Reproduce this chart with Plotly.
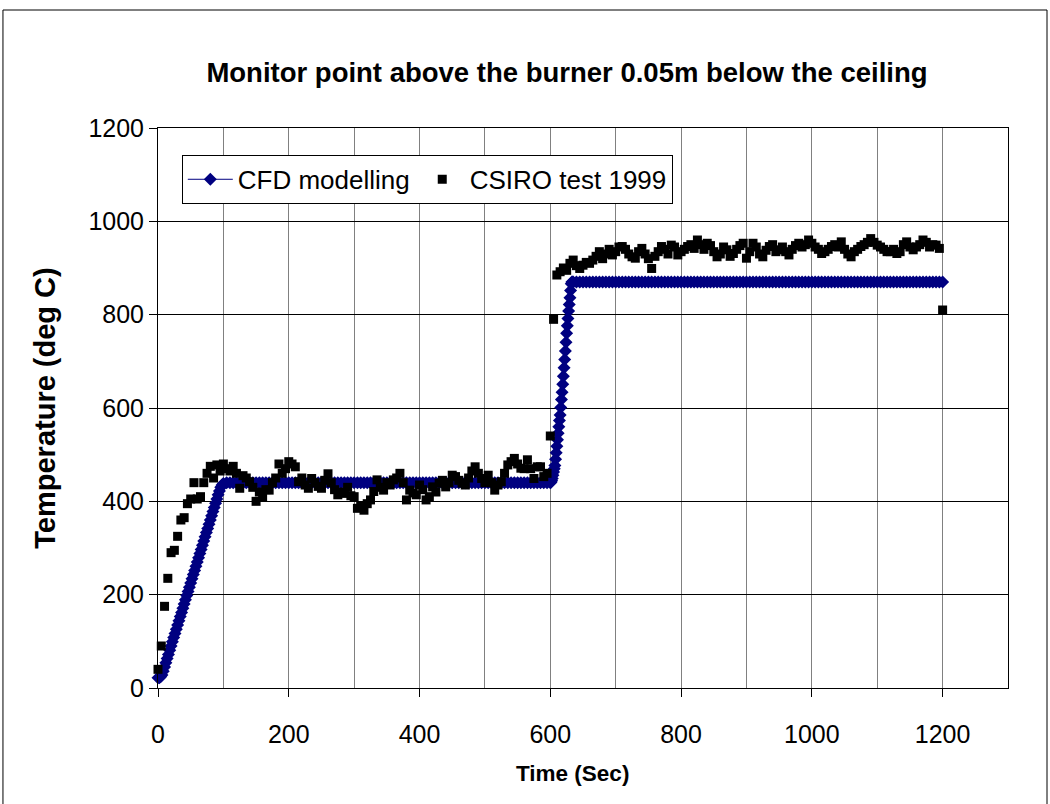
import plotly.graph_objects as go

# CFD modelling (sec, deg C)
cfd_time = [
    0, 2, 4, 6, 8, 10, 12, 14, 16, 18, 20, 22, 24, 26, 28, 30, 32, 34, 36, 38,
    40, 42, 44, 46, 48, 50, 52, 54, 56, 58, 60, 62, 64, 66, 68, 70, 72, 74, 76, 78,
    80, 82, 84, 86, 88, 90, 92, 94, 96, 98, 100,
    105, 110, 115, 120, 125, 130, 135, 140, 145, 150, 155, 160, 165, 170, 175, 180, 185, 190, 195, 200,
    205, 210, 215, 220, 225, 230, 235, 240, 245, 250, 255, 260, 265, 270, 275, 280, 285, 290, 295, 300,
    305, 310, 315, 320, 325, 330, 335, 340, 345, 350, 355, 360, 365, 370, 375, 380, 385, 390, 395, 400,
    405, 410, 415, 420, 425, 430, 435, 440, 445, 450, 455, 460, 465, 470, 475, 480, 485, 490, 495, 500,
    505, 510, 515, 520, 525, 530, 535, 540, 545, 550, 555, 560, 565, 570, 575, 580, 585, 590, 595,
    600, 601, 602, 603, 604, 605, 606, 607, 608, 609, 610, 611, 612, 613, 614, 615, 616, 617, 618, 619,
    620, 621, 622, 623, 624, 625, 626, 627, 628, 629, 630, 631, 632, 633, 634, 635,
    640, 645, 650, 655, 660, 665, 670, 675, 680, 685, 690, 695, 700,
    705, 710, 715, 720, 725, 730, 735, 740, 745, 750, 755, 760, 765, 770, 775, 780, 785, 790, 795, 800,
    805, 810, 815, 820, 825, 830, 835, 840, 845, 850, 855, 860, 865, 870, 875, 880, 885, 890, 895, 900,
    905, 910, 915, 920, 925, 930, 935, 940, 945, 950, 955, 960, 965, 970, 975, 980, 985, 990, 995, 1000,
    1005, 1010, 1015, 1020, 1025, 1030, 1035, 1040, 1045, 1050, 1055, 1060, 1065, 1070, 1075, 1080, 1085, 1090, 1095, 1100,
    1105, 1110, 1115, 1120, 1125, 1130, 1135, 1140, 1145, 1150, 1155, 1160, 1165, 1170, 1175, 1180, 1185, 1190, 1195, 1200,
]
cfd_temp = [
    22, 22, 24, 28, 36, 45, 54, 63, 72, 81, 90, 99, 108, 117, 126, 135, 144, 153, 162, 171,
    180, 189, 198, 207, 216, 225, 234, 243, 252, 261, 270, 279, 288, 297, 306, 315, 324, 333, 342, 351,
    360, 369, 378, 387, 396, 405, 414, 422, 430, 435, 438,
    440, 440, 440, 440, 440, 440, 440, 440, 440, 440, 440, 440, 440, 440, 440, 440, 440, 440, 440, 440,
    440, 440, 440, 440, 440, 440, 440, 440, 440, 440, 440, 440, 440, 440, 440, 440, 440, 440, 440, 440,
    440, 440, 440, 440, 440, 440, 440, 440, 440, 440, 440, 440, 440, 440, 440, 440, 440, 440, 440, 440,
    440, 440, 440, 440, 440, 440, 440, 440, 440, 440, 440, 440, 440, 440, 440, 440, 440, 440, 440, 440,
    440, 440, 440, 440, 440, 440, 440, 440, 440, 440, 440, 440, 440, 440, 440, 440, 440, 440, 440,
    440, 441, 444, 449, 456, 463, 470, 477, 490, 504, 518, 532, 546, 560, 573, 585, 601, 618, 634, 651,
    668, 686, 704, 722, 741, 760, 776, 792, 808, 822, 836, 852, 866, 870, 870, 870,
    870, 870, 870, 870, 870, 870, 870, 870, 870, 870, 870, 870, 870,
    870, 870, 870, 870, 870, 870, 870, 870, 870, 870, 870, 870, 870, 870, 870, 870, 870, 870, 870, 870,
    870, 870, 870, 870, 870, 870, 870, 870, 870, 870, 870, 870, 870, 870, 870, 870, 870, 870, 870, 870,
    870, 870, 870, 870, 870, 870, 870, 870, 870, 870, 870, 870, 870, 870, 870, 870, 870, 870, 870, 870,
    870, 870, 870, 870, 870, 870, 870, 870, 870, 870, 870, 870, 870, 870, 870, 870, 870, 870, 870, 870,
    870, 870, 870, 870, 870, 870, 870, 870, 870, 870, 870, 870, 870, 870, 870, 870, 870, 870, 870, 870,
]

# CSIRO test 1999 (sec, deg C)
csiro_time = [
    0, 5, 10, 15, 20, 25, 30, 35, 40, 45, 50, 55, 60, 65, 70, 75, 80, 85, 90, 95, 100,
    105, 110, 115, 120, 125, 130, 135, 140, 145, 150, 155, 160, 165, 170, 175, 180, 185, 190, 195, 200,
    205, 210, 215, 220, 225, 230, 235, 240, 245, 250, 255, 260, 265, 270, 275, 280, 285, 290, 295, 300,
    305, 310, 315, 320, 325, 330, 335, 340, 345, 350, 355, 360, 365, 370, 375, 380, 385, 390, 395, 400,
    405, 410, 415, 420, 425, 430, 435, 440, 445, 450, 455, 460, 465, 470, 475, 480, 485, 490, 495, 500,
    505, 510, 515, 520, 525, 530, 535, 540, 545, 550, 555, 560, 565, 570, 575, 580, 585, 590, 595, 600,
    605, 610, 615, 620, 625, 630, 635, 640, 645, 650, 655, 660, 665, 670, 675, 680, 685, 690, 695, 700,
    705, 710, 715, 720, 725, 730, 735, 740, 745, 750, 755, 760, 765, 770, 775, 780, 785, 790, 795, 800,
    805, 810, 815, 820, 825, 830, 835, 840, 845, 850, 855, 860, 865, 870, 875, 880, 885, 890, 895, 900,
    905, 910, 915, 920, 925, 930, 935, 940, 945, 950, 955, 960, 965, 970, 975, 980, 985, 990, 995, 1000,
    1005, 1010, 1015, 1020, 1025, 1030, 1035, 1040, 1045, 1050, 1055, 1060, 1065, 1070, 1075, 1080, 1085, 1090, 1095, 1100,
    1105, 1110, 1115, 1120, 1125, 1130, 1135, 1140, 1145, 1150, 1155, 1160, 1165, 1170, 1175, 1180, 1185, 1190, 1195, 1200,
]
csiro_temp = [
    40, 90, 175, 235, 290, 295, 325, 360, 365, 395, 405, 440, 405, 410, 440, 460, 475, 450, 478, 465, 480,
    470, 465, 475, 460, 428, 455, 450, 442, 430, 400, 420, 410, 425, 424, 440, 450, 480, 460, 470, 485,
    480, 474, 442, 450, 435, 428, 449, 440, 432, 428, 445, 459, 440, 425, 414, 420, 417, 430, 412, 410,
    385, 390, 381, 395, 403, 421, 446, 430, 424, 440, 435, 446, 450, 460, 440, 403, 424, 418, 414, 435,
    425, 403, 410, 431, 420, 439, 445, 431, 440, 456, 453, 445, 439, 435, 450, 465, 474, 460, 449, 440,
    456, 440, 424, 435, 442, 460, 478, 485, 492, 480, 471, 470, 489, 470, 449, 474, 474, 453, 460, 540,
    790, 885, 892, 900, 895, 910, 917, 905, 899, 906, 912, 910, 917, 925, 935, 920, 930, 940, 928, 935,
    945, 946, 940, 930, 924, 921, 935, 942, 930, 920, 899, 925, 935, 946, 940, 930, 949, 945, 928, 935,
    940, 946, 950, 942, 960, 950, 940, 953, 948, 935, 924, 930, 945, 939, 925, 931, 940, 948, 953, 921,
    935, 953, 945, 930, 924, 938, 946, 950, 935, 939, 945, 935, 928, 940, 948, 953, 945, 950, 960, 953,
    945, 940, 931, 935, 940, 946, 950, 945, 956, 940, 930, 924, 935, 940, 946, 950, 955, 963, 955, 949,
    945, 940, 935, 935, 940, 931, 935, 950, 956, 945, 939, 945, 950, 960, 955, 945, 950, 949, 942, 810,
]

assert len(cfd_time) == len(cfd_temp)
assert len(csiro_time) == len(csiro_temp)

FONT = "Liberation Sans, Arial, sans-serif"

fig = go.Figure()

fig.add_trace(go.Scatter(
    x=cfd_time, y=cfd_temp,
    name="CFD modelling",
    mode="lines+markers",
    line=dict(color="#000080", width=1),
    marker=dict(symbol="diamond", size=10, color="#000080"),
    cliponaxis=False,
))

fig.add_trace(go.Scatter(
    x=csiro_time, y=csiro_temp,
    name="CSIRO test 1999",
    mode="markers",
    marker=dict(symbol="square", size=9, color="#000000"),
    cliponaxis=False,
))

fig.update_layout(
    width=1050, height=804,
    paper_bgcolor="#ffffff",
    plot_bgcolor="#ffffff",
    margin=dict(l=158, r=42, t=128, b=116),
    font=dict(family=FONT, color="#000000", size=25),
    title=dict(
        text="<b>Monitor point above the burner 0.05m below the ceiling</b>",
        x=0.54, xanchor="center", y=0.91, yanchor="middle",
        font=dict(size=27.5),
    ),
    showlegend=True,
    legend=dict(
        orientation="h",
        x=0.028, y=0.952, xanchor="left", yanchor="top",
        bgcolor="#ffffff", bordercolor="#000000", borderwidth=1,
        itemwidth=45,
        font=dict(size=26),
    ),
    xaxis=dict(
        range=[0, 1300], dtick=200, tick0=0,
        showline=True, linecolor="#000000", linewidth=1, mirror=True,
        ticks="outside", ticklen=8, tickcolor="#000000",
        ticklabelstandoff=16,
        showgrid=True, gridcolor="#808080", gridwidth=1,
        minor=dict(dtick=100, showgrid=True, gridcolor="#808080", gridwidth=1),
        zeroline=False,
    ),
    yaxis=dict(
        range=[0, 1200], dtick=200, tick0=0,
        showline=True, linecolor="#000000", linewidth=1, mirror=True,
        ticks="outside", ticklen=8, tickcolor="#000000",
        showgrid=True, gridcolor="#000000", gridwidth=1,
        zeroline=False,
        title=dict(text="<b>Temperature (deg C)</b>", font=dict(size=29), standoff=24),
    ),
)

# x-axis title, sitting a little left of the plot centre as in the original
fig.add_annotation(
    text="<b>Time (Sec)</b>",
    xref="paper", yref="paper", x=0.488, y=-0.152,
    xanchor="center", yanchor="middle", showarrow=False,
    font=dict(size=22.5),
)

# outer chart frame (bottom edge runs past the image)
fig.add_shape(
    type="rect", xref="paper", yref="paper",
    x0=-0.1824, x1=1.0459, y0=-0.26, y1=1.2107,
    line=dict(color="#000000", width=1),
)

fig.write_html(
    "out.html",
    config={"displayModeBar": False},
    post_script="document.body.style.margin='0px';",
)
